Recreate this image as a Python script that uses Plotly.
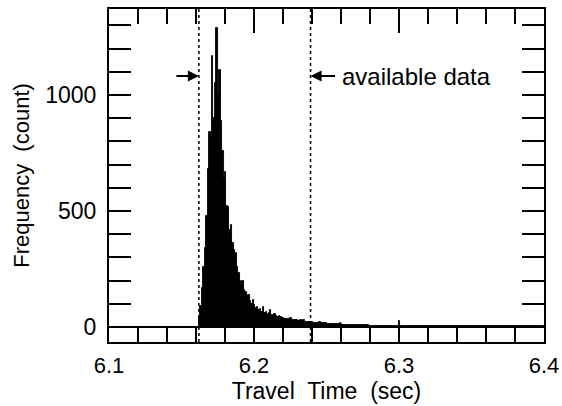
import plotly.graph_objects as go

# ---- data ----
bin_start = 6.162
bin_width = 0.001
counts = [
    40, 90, 170, 260, 340, 480, 680, 840, 820, 1170,     # 6.162-6.171
    900, 1050, 1290, 1000, 1110, 890, 760, 640, 668, 520, # 6.172-6.181
    517, 420, 440, 360, 330, 320, 260, 233, 200, 180,    # 6.182-6.191
    198, 160, 150, 130, 138, 110, 100, 116, 95, 80,      # 6.192-6.201
    88, 72, 78, 66, 86, 62, 64, 55, 60, 73,              # 6.202-6.211
    52, 50, 54, 46, 44, 48, 43, 38, 40, 35,              # 6.212-6.221
    36, 33, 34, 39, 30, 31, 28, 29, 27, 26,              # 6.222-6.231
    28, 24, 30, 23, 22, 23, 21, 20, 20, 19,              # 6.232-6.241
    18, 19, 17, 22, 16, 16, 15, 15, 14, 14,              # 6.242-6.251
    13, 13, 12, 12, 12, 11, 11, 17, 11, 10,              # 6.252-6.261
    10, 10, 9, 9, 9, 9, 8, 8, 8, 8,                      # 6.262-6.271
    8, 7, 7, 7, 7, 7, 7, 6, 6, 6,                        # 6.272-6.281
    6, 6, 6, 6, 6, 5, 5, 5, 5, 5,                        # 6.282-6.291
    5, 5, 5, 5, 5, 5, 5, 5, 26, 5,                       # 6.292-6.301
    5, 5, 4, 4, 4, 4, 4, 4, 4, 4,                        # 6.302-6.311
    4, 4, 4, 4, 4, 4, 3, 3, 3, 3,                        # 6.312-6.321
    3, 3, 3, 3, 3, 3, 3, 3, 3, 3,                        # 6.322-6.331
    3, 3, 3, 3, 3, 3, 3, 3, 2, 2,                        # 6.332-6.341
    2, 2, 2, 2, 2, 2, 2, 2, 2, 2,                        # 6.342-6.351
    2, 2, 2, 2, 2, 2, 2, 2, 2, 2,                        # 6.352-6.361
    2, 2, 2, 2, 2, 2, 2, 2, 2, 2,                        # 6.362-6.371
    2, 2, 2, 2, 2, 2, 2, 2, 2, 2,                        # 6.372-6.381
    2, 2, 2, 2, 2, 2, 2, 2, 2, 2,                        # 6.382-6.391
    2, 2, 2, 2, 2, 2, 2, 2,                              # 6.392-6.399
]
bin_centers = [round(bin_start + bin_width * (i + 0.5), 4) for i in range(len(counts))]

window_lines = [6.162, 6.239]      # "available data" window
arrow_level = 1082
label_text = "available data"
label_x = 6.259

x_range = [6.1, 6.4]
y_range = [-65, 1371]
x_ticks = [6.1, 6.2, 6.3, 6.4]
x_ticklabels = ["6.1", "6.2", "6.3", "6.4"]
y_ticks = [0, 500, 1000]

FONT = "Liberation Sans, Arial, Helvetica, sans-serif"

fig = go.Figure()
fig.add_trace(go.Bar(
    x=bin_centers, y=counts, width=bin_width,
    marker=dict(color="black", line=dict(color="black", width=0.9)),
    showlegend=False, hoverinfo="skip",
))
# helper trace so the top (mirror) x axis is drawn
fig.add_trace(go.Scatter(x=x_range, y=[None, None], xaxis="x2", mode="lines",
                         showlegend=False, hoverinfo="skip"))

for xv in window_lines:
    fig.add_shape(type="line", x0=xv, x1=xv, y0=0, y1=1, xref="x", yref="paper",
                  line=dict(color="black", width=1.5, dash="dot"))

fig.add_annotation(x=window_lines[0], y=arrow_level, ax=-24, ay=0, text="",
                   showarrow=True, arrowhead=2, arrowsize=1, arrowwidth=2.2,
                   arrowcolor="black")
fig.add_annotation(x=window_lines[1], y=arrow_level, ax=26, ay=0, text="",
                   showarrow=True, arrowhead=2, arrowsize=1, arrowwidth=2.2,
                   arrowcolor="black")
fig.add_annotation(x=label_x, y=arrow_level, text=label_text, showarrow=False,
                   xanchor="left", yanchor="middle",
                   font=dict(family=FONT, size=24, color="black"))

fig.update_layout(
    width=562, height=406,
    margin=dict(l=109, r=18, t=9, b=64, autoexpand=False),
    paper_bgcolor="white", plot_bgcolor="white",
    bargap=0,
    font=dict(family=FONT, size=22, color="black"),
    xaxis=dict(
        range=x_range, tickvals=x_ticks, ticktext=x_ticklabels,
        ticks="inside", ticklen=17, tickwidth=1.5, tickcolor="black",
        minor=dict(dtick=0.02, tick0=6.1, ticks="inside", ticklen=14,
                   tickwidth=1.5, tickcolor="black"),
        showline=True, linecolor="black", linewidth=2, mirror=True,
        showgrid=False, zeroline=False, automargin=False,
        title=dict(text="Travel  Time  (sec)", font=dict(size=23), standoff=2),
        tickfont=dict(size=22), ticklabelstandoff=3,
    ),
    xaxis2=dict(
        range=x_range, overlaying="x", side="top", tickvals=x_ticks,
        showticklabels=False, ticks="inside", ticklen=24, tickwidth=1.5,
        tickcolor="black",
        minor=dict(dtick=0.02, tick0=6.1, ticks="inside", ticklen=15,
                   tickwidth=1.5, tickcolor="black"),
        showgrid=False, zeroline=False, showline=False, automargin=False,
    ),
    yaxis=dict(
        range=y_range, tickvals=y_ticks,
        ticks="inside", ticklen=22, tickwidth=1.5, tickcolor="black",
        minor=dict(dtick=100, tick0=0, ticks="inside", ticklen=14,
                   tickwidth=1.5, tickcolor="black"),
        showline=True, linecolor="black", linewidth=2, mirror="allticks",
        showgrid=False, automargin=False,
        zeroline=True, zerolinecolor="black", zerolinewidth=1.5,
        title=dict(text="Frequency  (count)", font=dict(size=22), standoff=10),
        tickfont=dict(size=23), ticklabelstandoff=6,
    ),
)

# remove the browser's default page margin so the figure sits at the window's corner
fig.write_html("out.html",
               config={"displayModeBar": False},
               post_script="document.body.style.margin='0';document.body.style.overflow='hidden';")
